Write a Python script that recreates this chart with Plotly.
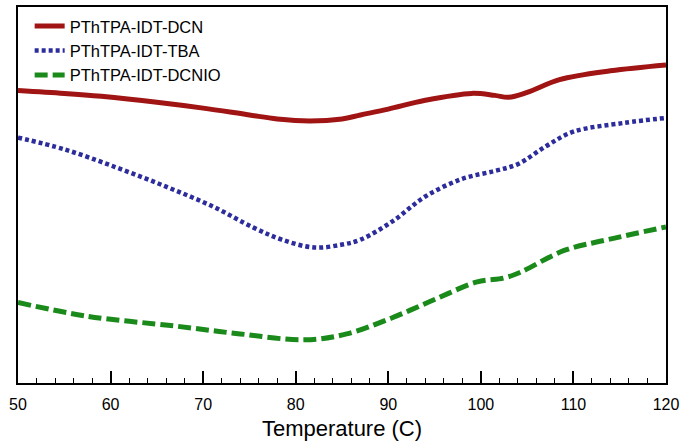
import plotly.graph_objects as go

# Temperature (C) and signal (a.u.)
t_dcn = [50, 55, 59, 65, 70, 75, 78, 81.5, 85, 87, 90, 94, 99, 101.5, 103, 105, 108.5, 114, 120]
y_dcn = [298, 295, 292, 286, 280, 273, 269, 267, 269, 273, 279, 288, 295, 293, 291, 296, 309, 318, 324]

t_tba = [50, 55, 60.5, 66, 71, 75.5, 78.5, 82, 85, 87, 90.5, 94, 98, 101.5, 104, 107, 110, 115.5, 120]
y_tba = [250, 238, 220, 200, 180, 158, 146, 138, 141, 146, 165, 190, 208, 216, 223, 241, 256, 265, 270]

t_dcnio = [50, 57.5, 67, 74, 81, 85.5, 90.3, 95, 99.6, 102.5, 104.3, 109, 113.7, 120]
y_dcnio = [82, 68, 58, 50, 44, 50, 66, 85, 103, 107, 113, 135, 146, 159]

names = ["PThTPA-IDT-DCN", "PThTPA-IDT-TBA", "PThTPA-IDT-DCNIO"]
x_ticks = [50, 60, 70, 80, 90, 100, 110, 120]

fig = go.Figure()
fig.add_trace(go.Scatter(x=t_dcn, y=y_dcn, name=names[0], mode="lines", legendgroup="a",
                         line=dict(color="#a01414", width=5, shape="spline", smoothing=1)))
fig.add_trace(go.Scatter(x=t_tba, y=y_tba, name=names[1], mode="lines", legendgroup="b",
                         line=dict(color="#2c2c9c", width=4.5, dash="4px,3px", shape="spline", smoothing=1)))
fig.add_trace(go.Scatter(x=t_dcnio, y=y_dcnio, name=names[2], mode="lines", legendgroup="c",
                         line=dict(color="#1a8a1a", width=5, dash="13px,5px", shape="spline", smoothing=1)))

fig.update_layout(
    width=684, height=442,
    margin=dict(l=18, r=14, t=5, b=54),
    paper_bgcolor="white", plot_bgcolor="white",
    font=dict(family="Liberation Sans, Arial, sans-serif", color="black"),
    showlegend=True,
    legend=dict(x=0.018, y=0.995, xanchor="left", yanchor="top",
                bgcolor="rgba(0,0,0,0)", font=dict(size=16.5),
                tracegroupgap=0, traceorder="grouped"),
    xaxis=dict(range=[50, 120], tickvals=x_ticks, ticktext=[str(v) for v in x_ticks],
               ticks="inside", ticklen=12, tickwidth=2, tickcolor="black",
               minor=dict(dtick=2, ticks="inside", ticklen=5, tickwidth=1, tickcolor="black"),
               showline=True, linecolor="black", linewidth=2, mirror=True,
               showgrid=False, zeroline=False, tickfont=dict(size=16), ticklabelstandoff=6,
               title=dict(text="Temperature (C)", font=dict(size=22), standoff=8)),
    yaxis=dict(range=[0, 383], showticklabels=False, ticks="",
               showline=True, linecolor="black", linewidth=2, mirror=True,
               showgrid=False, zeroline=False),
)

fig.write_html("out.html", config={"displayModeBar": False},
               post_script="document.body.style.margin='0';")
